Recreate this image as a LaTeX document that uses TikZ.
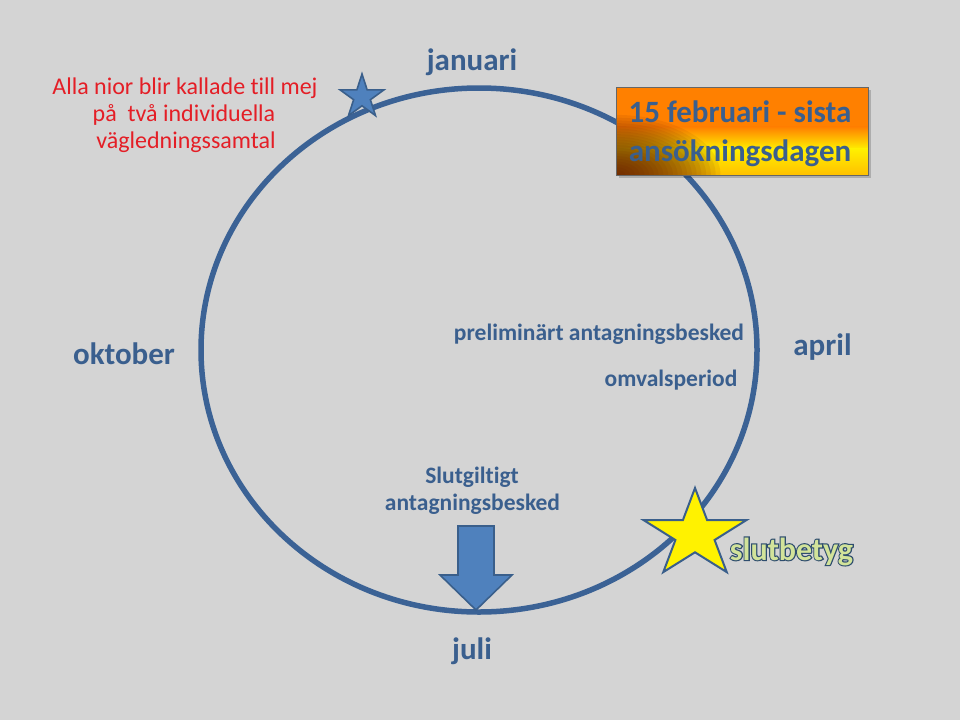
\documentclass[tikz,border=0pt]{standalone}
\usepackage{fontspec}
\setmainfont[Ligatures=NoCommon]{Carlito}
\newfontfamily\outlfont[FakeBold=7,UprightFont={* Bold},Ligatures=NoCommon]{Carlito}
\usetikzlibrary{shapes.geometric,calc}
\definecolor{bg}{HTML}{D4D4D4}
\definecolor{tblue}{HTML}{3A5F8E}
\definecolor{cblue}{HTML}{3B6295}
\definecolor{sfill}{HTML}{4F81BD}
\definecolor{sline}{HTML}{3A5F8B}
\definecolor{rtext}{HTML}{E41E26}
\definecolor{orng}{HTML}{FF8000}
\definecolor{yell}{HTML}{FFF000}
\definecolor{yellb}{HTML}{FFC000}
\definecolor{brwn}{HTML}{5A1400}
\definecolor{slfill}{HTML}{D2E39A}
\definecolor{sloutl}{HTML}{2E4D6E}
\begin{document}
\begin{tikzpicture}[x=1pt,y=-1pt,
  big/.style={font=\fontsize{31}{37}\selectfont\bfseries, text=tblue, inner sep=0pt, anchor=base},
  mid/.style={font=\fontsize{23.5}{28}\selectfont\bfseries, text=tblue, inner sep=0pt, anchor=base},
  redtxt/.style={font=\fontsize{24}{27}\selectfont, text=rtext, inner sep=0pt, anchor=base},
  bluefig/.style={fill=sfill, draw=sline, line width=1.6pt, line join=miter},
  yellstar/.style={fill=yellow, draw=sline, line width=2pt, line join=miter}]
\fill[bg] (0,0) rectangle (960,720);
\useasboundingbox (0,0) rectangle (960,720);
% cycle
\node[draw=cblue, line width=5.5pt, ellipse, minimum width=556pt, minimum height=524pt, inner sep=0pt] (cycle) at (479,350) {};
% small star
\coordinate (ss) at (362,97);
\draw[bluefig] ($(ss)+(90:23pt)$) -- ($(ss)+(126:8.8pt)$) -- ($(ss)+(162:23pt)$) -- ($(ss)+(198:8.8pt)$)
  -- ($(ss)+(234:23pt)$) -- ($(ss)+(270:8.8pt)$) -- ($(ss)+(306:23pt)$) -- ($(ss)+(342:8.8pt)$)
  -- ($(ss)+(18:23pt)$) -- ($(ss)+(54:8.8pt)$) -- cycle;
% box
\node[minimum width=252pt, minimum height=88pt, inner sep=0pt, anchor=north west] (febbox) at (616,87) {};
\fill[black, opacity=0.18] ($(febbox.north west)+(3,3)$) rectangle ($(febbox.south east)+(3,3)$);
\fill[orng] (febbox.north west) rectangle ($(febbox.east)+(0,-4)$);
\shade[top color=orng, bottom color=yell] ($(febbox.west)+(0,-4.5)$) rectangle ($(febbox.east)+(0,18)$);
\shade[top color=yell, bottom color=yellb] ($(febbox.west)+(0,17.5)$) rectangle (febbox.south east);
\begin{scope}
  \clip (febbox.north west) rectangle (febbox.south east);
  \foreach \r in {5,10,...,110} \fill[brwn, opacity=0.075] (febbox.south west) ellipse ({\r*0.95pt} and {\r*0.55pt});
\end{scope}
\draw[gray!80!black, line width=0.6pt] (febbox.north west) rectangle (febbox.south east);
\node[big] (feb1) at (740,122) {15 februari - sista};
\node[big] (feb2) at (740,161) {ansökningsdagen};
% big star
\coordinate (bs) at (695,534.5);
\draw[yellstar] ($(bs)+(90:54pt and 46.5pt)$) -- ($(bs)+(126:20.6pt and 17.8pt)$) -- ($(bs)+(162:54pt and 46.5pt)$)
  -- ($(bs)+(198:20.6pt and 17.8pt)$) -- ($(bs)+(234:54pt and 46.5pt)$) -- ($(bs)+(270:20.6pt and 17.8pt)$)
  -- ($(bs)+(306:54pt and 46.5pt)$) -- ($(bs)+(342:20.6pt and 17.8pt)$) -- ($(bs)+(18:54pt and 46.5pt)$)
  -- ($(bs)+(54:20.6pt and 17.8pt)$) -- cycle;
% arrow
\draw[bluefig] (458,526) -- (494,526) -- (494,575) -- (512,575) -- (476,610) -- (440,575) -- (458,575) -- cycle;
% texts
\node[redtxt] (red1) at (185,94) {Alla nior blir kallade till mej};
\node[redtxt] (red2) at (184,121) {på\ \ två individuella};
\node[redtxt] (red3) at (186,148) {vägledningssamtal};
\node[big] (jan) at (472,70) {januari};
\node[big] (okt) at (124,364) {oktober};
\node[big] (apr) at (822.5,355) {april};
\node[big] (jul) at (472,659) {juli};
\node[mid] (prel) at (599,340) {preliminärt antagningsbesked};
\node[mid] (omv) at (671,386) {omvalsperiod};
\node[mid] (slut1) at (472,483) {Slutgiltigt};
\node[mid] (slut2) at (472.5,510) {antagningsbesked};
\node[inner sep=0pt, anchor=base, text=sloutl, font=\fontsize{32}{38}\selectfont\outlfont] (sbo) at (791.5,560) {slutbetyg};
\node[inner sep=0pt, anchor=base, text=slfill, font=\fontsize{32}{38}\selectfont\bfseries] (sb) at (791.5,560) {slutbetyg};
\end{tikzpicture}
\end{document}
